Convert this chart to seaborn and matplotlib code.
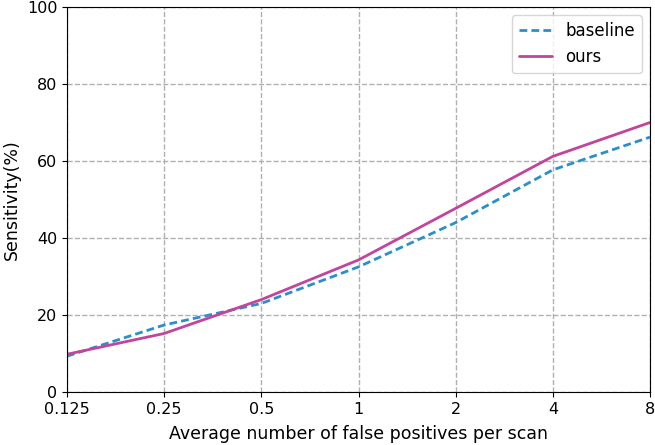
import matplotlib
matplotlib.use('Agg')
import matplotlib.pyplot as plt
import seaborn as sns
import pandas as pd

fp_labels = ['0.125', '0.25', '0.5', '1', '2', '4', '8']
baseline = [9.3, 17.4, 23.0, 32.5, 44.0, 57.7, 66.2]
ours = [9.8, 15.2, 24.0, 34.3, 47.7, 61.2, 70.0]

df = pd.DataFrame({
    'pos': list(range(len(fp_labels))) * 2,
    'sens': baseline + ours,
    'method': ['baseline'] * len(baseline) + ['ours'] * len(ours),
})

sns.set_style('ticks', {'axes.edgecolor': 'black', 'text.color': 'black',
                        'xtick.color': 'black', 'ytick.color': 'black',
                        'axes.labelcolor': 'black'})
plt.rcParams['font.family'] = ['DejaVu Sans']

fig, ax = plt.subplots(figsize=(6.55, 4.45), dpi=100)
fig.subplots_adjust(left=67/655, right=650/655, top=1-7/445, bottom=1-392/445)

sns.lineplot(data=df, x='pos', y='sens', hue='method', style='method',
             palette={'baseline': '#2b8fca', 'ours': '#c2449b'},
             dashes={'baseline': (2.8, 1.5), 'ours': ''}, lw=2, ax=ax)

ax.set_xlim(0, len(fp_labels) - 1)
ax.set_ylim(0, 100)
ax.set_xticks(range(len(fp_labels)))
ax.set_xticklabels(fp_labels)
ax.set_yticks(range(0, 101, 20))
ax.tick_params(labelsize=11.5)
ax.grid(True, ls='--', color='#b0b0b0', lw=1)
ax.set_xlabel('Average number of false positives per scan', fontsize=12.5, labelpad=6)
ax.set_ylabel('Sensitivity(%)', fontsize=12.5, labelpad=4)
ax.legend(title=None, fontsize=12, loc='upper right')

fig.savefig('out.png', dpi=100)
